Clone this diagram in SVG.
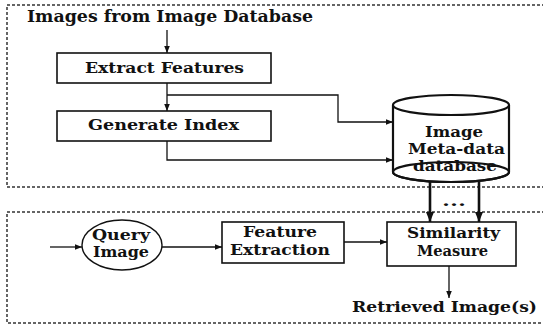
<svg xmlns="http://www.w3.org/2000/svg" width="543" height="327" viewBox="0 0 543 327">
<style>
.t{font-family:"DejaVu Serif","Liberation Serif",serif;font-weight:bold;fill:#111;}
.box{fill:#fff;stroke:#111;stroke-width:1.6;}
.dash{fill:none;stroke:#333;stroke-width:1.5;stroke-dasharray:3 2;}
.ln{fill:none;stroke:#111;stroke-width:1.3;}
.thick{fill:none;stroke:#111;stroke-width:2.6;}
</style>
<defs>
<marker id="ah" viewBox="0 0 10 10" refX="10" refY="5" markerWidth="7" markerHeight="7" markerUnits="userSpaceOnUse" orient="auto">
<path d="M0,1 L10,5 L0,9 Z" fill="#111"/>
</marker>
<marker id="ahb" viewBox="0 0 10 10" refX="10" refY="5" markerWidth="10" markerHeight="10" markerUnits="userSpaceOnUse" orient="auto">
<path d="M0,1 L10,5 L0,9 Z" fill="#111"/>
</marker>
</defs>
<rect width="543" height="327" fill="#fff"/>
<g id="regions">
<path class="dash" d="M560,5 H7 V187 H560"/>
<path class="dash" d="M560,212 H7 V323 H560"/>
</g>
<g id="title"><text class="t" x="27" y="22" font-size="16" textLength="286" lengthAdjust="spacingAndGlyphs">Images from Image Database</text></g>
<g id="extract">
<rect class="box" x="57" y="53" width="214" height="30"/>
<text class="t" x="85" y="73" font-size="15" textLength="159" lengthAdjust="spacingAndGlyphs">Extract Features</text>
</g>
<g id="generate">
<rect class="box" x="57" y="111" width="214" height="30"/>
<text class="t" x="88" y="130" font-size="15" textLength="151" lengthAdjust="spacingAndGlyphs">Generate Index</text>
</g>
<g id="metadb">
<path d="M393,105 V172 A58,10 0 0 0 509,172 V105" fill="#fff" stroke="#111" stroke-width="2.2"/>
<ellipse cx="451" cy="105" rx="58" ry="10" fill="#fff" stroke="#111" stroke-width="2.2"/>
<ellipse cx="451" cy="172" rx="58" ry="10" fill="none" stroke="#111" stroke-width="2.2"/>
<text class="t" x="425" y="137" font-size="14" textLength="58" lengthAdjust="spacingAndGlyphs">Image</text>
<text class="t" x="408" y="154" font-size="14" textLength="97" lengthAdjust="spacingAndGlyphs">Meta-data</text>
<text class="t" x="413" y="171" font-size="14" textLength="84" lengthAdjust="spacingAndGlyphs">database</text>
</g>
<g id="query">
<ellipse cx="122" cy="245" rx="40" ry="25" fill="#fff" stroke="#111" stroke-width="1.4"/>
<text class="t" x="92" y="240" font-size="14.5" textLength="58" lengthAdjust="spacingAndGlyphs">Query</text>
<text class="t" x="93" y="257" font-size="14.5" textLength="56" lengthAdjust="spacingAndGlyphs">Image</text>
</g>
<g id="featext">
<rect class="box" x="222" y="222" width="122" height="41"/>
<text class="t" x="243" y="237" font-size="14.5" textLength="74" lengthAdjust="spacingAndGlyphs">Feature</text>
<text class="t" x="230" y="255" font-size="14.5" textLength="100" lengthAdjust="spacingAndGlyphs">Extraction</text>
</g>
<g id="similarity">
<rect class="box" x="387" y="222" width="129" height="44"/>
<text class="t" x="407" y="238" font-size="14.5" textLength="93" lengthAdjust="spacingAndGlyphs">Similarity</text>
<text class="t" x="417" y="256" font-size="14.5" textLength="71" lengthAdjust="spacingAndGlyphs">Measure</text>
</g>
<g id="retrieved"><text class="t" x="352" y="312" font-size="15" textLength="185" lengthAdjust="spacingAndGlyphs">Retrieved Image(s)</text></g>
<g id="dots"><text class="t" x="442" y="206" font-size="14" textLength="24" lengthAdjust="spacingAndGlyphs">...</text></g>
<g id="connectors">
<path class="ln" d="M167,30 V53" marker-end="url(#ah)"/>
<path class="ln" d="M167,83 V111" marker-end="url(#ah)"/>
<path class="ln" d="M167,95 H338 V122 H393" marker-end="url(#ah)"/>
<path class="ln" d="M167,141 V160 H393" marker-end="url(#ah)"/>
<path class="thick" d="M430,182 V222" marker-end="url(#ahb)"/>
<path class="thick" d="M479,182 V222" marker-end="url(#ahb)"/>
<path class="ln" d="M50,247 H82" marker-end="url(#ah)"/>
<path class="ln" d="M162,247 H222" marker-end="url(#ah)"/>
<path class="ln" d="M344,242 H387" marker-end="url(#ah)"/>
<path class="ln" d="M449,266 V298" marker-end="url(#ah)"/>
</g>
</svg>
